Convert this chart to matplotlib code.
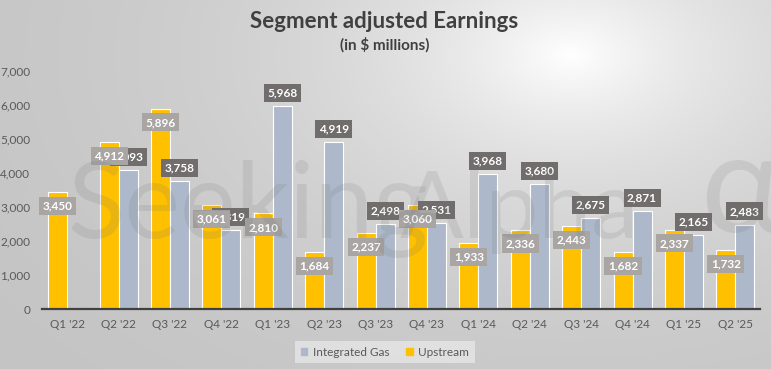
import numpy as np
import matplotlib.pyplot as plt
from matplotlib.patches import Patch

# --- data ---
quarters = ["Q1 '22", "Q2 '22", "Q3 '22", "Q4 '22", "Q1 '23", "Q2 '23", "Q3 '23",
            "Q4 '23", "Q1 '24", "Q2 '24", "Q3 '24", "Q4 '24", "Q1 '25", "Q2 '25"]
upstream = [3450, 4912, 5896, 3061, 2810, 1684, 2237, 3060, 1933, 2336, 2443, 1682, 2337, 1732]
integrated_gas = [np.nan, 4093, 3758, 2319, 5968, 4919, 2498, 2531, 3968, 3680, 2675, 2871, 2165, 2483]
yticks = [0, 1000, 2000, 3000, 4000, 5000, 6000, 7000]

UP_COL = '#FFC000'
IG_COL = '#ADB9CA'
FONT = 'Lato'
plt.rcParams['font.family'] = [FONT, 'DejaVu Sans']

W, H = 771, 369
fig = plt.figure(figsize=(W / 100, H / 100), dpi=100)

# --- background gradient (bright spot top-right, grey toward edges) ---
bg = fig.add_axes([0, 0, 1, 1], zorder=-10)
yy, xx = np.mgrid[0:H, 0:W]
r = np.hypot(xx - 570, (yy - 55) * 1.6)
drop = 62 * (1 - np.exp(-r / 250))
shade = (255 - drop) / 255
bg.imshow(np.dstack([shade] * 3), aspect='auto', extent=(0, 1, 0, 1), origin='upper')
bg.axis('off')

ax = fig.add_axes([42 / W, 1 - 309 / H, (760 - 42) / W, (309 - 71) / H])
ax.patch.set_alpha(0)

x = np.arange(len(quarters))
bw = 0.37
off = 0.185
ax.bar(x - off, upstream, bw, color=UP_COL, edgecolor='white', linewidth=0.8, zorder=2)
ax.bar(x + off, integrated_gas, bw, color=IG_COL, edgecolor='white', linewidth=0.8, zorder=2)

ax.set_xlim(-0.49, 13.48)
ax.set_ylim(0, 7000)
ax.set_yticks(yticks)
ax.set_yticklabels([f'{v:,}' for v in yticks])
ax.set_xticks(x)
ax.set_xticklabels(quarters)
ax.tick_params(axis='both', length=0, labelsize=8.5, labelcolor='#595959')
ax.tick_params(axis='y', pad=8.5)
ax.tick_params(axis='x', pad=7)
for s in ['top', 'right', 'left']:
    ax.spines[s].set_visible(False)
ax.spines['bottom'].set_color('#404040')
ax.spines['bottom'].set_linewidth(1.6)

# watermark
wm = dict(color='#707070', alpha=0.15, ha='left', va='baseline', zorder=5)
fig.text(67 / W, 0.355, 'Seeking', fontsize=76, **wm)
fig.text(400 / W, 0.355, 'Alpha', fontsize=68, **wm)
fig.text(700 / W, 0.37, '\u03b1', fontsize=100, **wm)

# data labels (upstream labels drawn above gas labels)
for xi, v in zip(x, integrated_gas):
    if np.isnan(v):
        continue
    ax.annotate(f'{v:,.0f}', (xi + off, v), xytext=(0, 9.5), textcoords='offset points',
                ha='center', va='center', fontsize=8.5, fontweight='bold', color='white',
                bbox=dict(boxstyle='square,pad=0.3', fc='#716d6d', ec='none'), zorder=6)
for xi, v in zip(x, upstream):
    ax.annotate(f'{v:,}', (xi - off, v), xytext=(0, -10), textcoords='offset points',
                ha='center', va='center', fontsize=8.5, fontweight='bold', color='white',
                bbox=dict(boxstyle='square,pad=0.3', fc='#a8a5a3', ec='none'), zorder=7)

fig.text(384 / W, 1 - 22 / H, 'Segment adjusted Earnings', ha='center', va='center',
         fontsize=16, fontweight='bold', color='#404040')
fig.text(385 / W, 1 - 45 / H, '(in $ millions)', ha='center', va='center',
         fontsize=11, fontweight='bold', color='#404040')

handles = [Patch(color=IG_COL, label='Integrated Gas'), Patch(color=UP_COL, label='Upstream')]
leg = fig.legend(handles=handles, loc='center', bbox_to_anchor=(385 / W, 1 - 352 / H), ncol=2,
                 fontsize=8.5, frameon=True, fancybox=False, handlelength=0.55, handleheight=0.55,
                 handletextpad=0.5, columnspacing=1.4, borderpad=0.5)
leg.get_frame().set_facecolor('#e6e6e6')
leg.get_frame().set_edgecolor('none')
leg.get_frame().set_alpha(0.8)
for t in leg.get_texts():
    t.set_color('#595959')

fig.savefig('out.png', dpi=100)
